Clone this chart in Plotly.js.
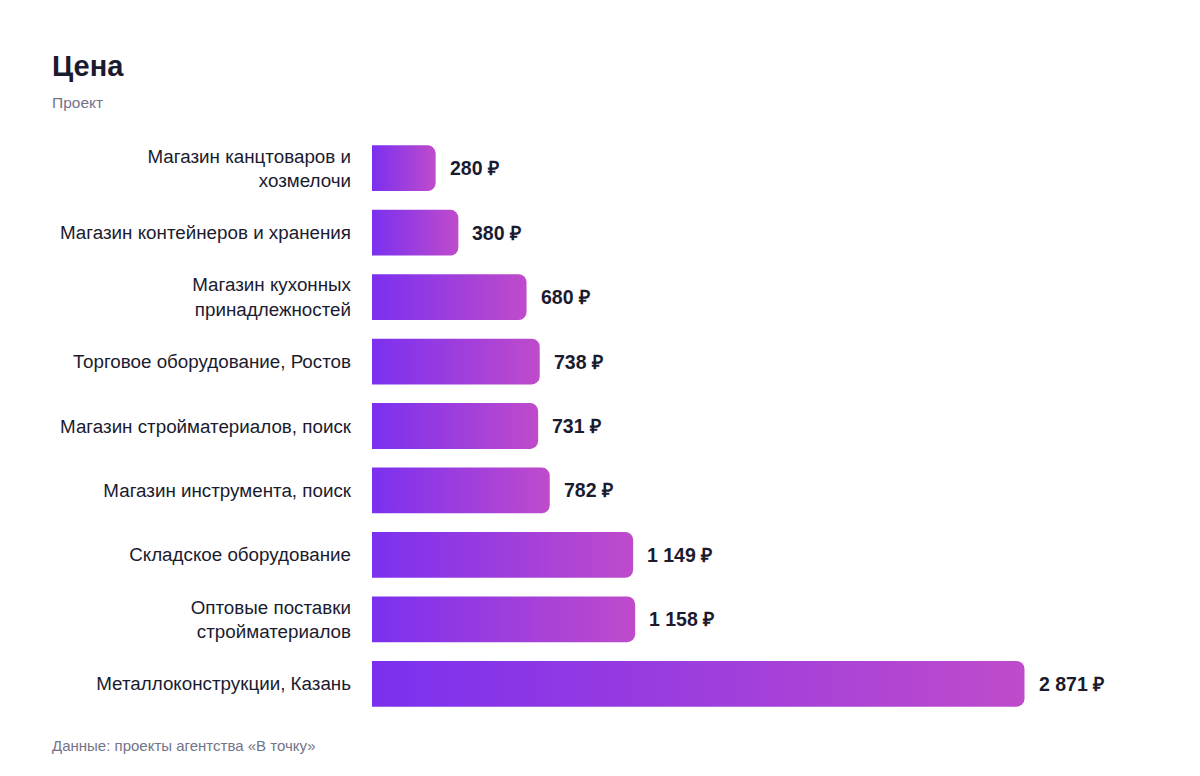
<!DOCTYPE html>
<html>
<head>
<meta charset="utf-8">
<script src="https://cdn.plot.ly/plotly-3.0.1.min.js"></script>
<style>
  html, body { margin: 0; padding: 0; background: #fff; }
  #chart { width: 1200px; height: 776px; }
</style>
</head>
<body>
<div id="chart"></div>
<script>
// data
const projects = [
  'Магазин канцтоваров и<br>хозмелочи',
  'Магазин контейнеров и хранения',
  'Магазин кухонных<br>принадлежностей',
  'Торговое оборудование, Ростов',
  'Магазин стройматериалов, поиск',
  'Магазин инструмента, поиск',
  'Складское оборудование',
  'Оптовые поставки<br>стройматериалов',
  'Металлоконструкции, Казань'
];
const prices = [280, 380, 680, 738, 731, 782, 1149, 1158, 2871];

function fmt(v) {
  return String(v).replace(/\B(?=(\d{3})+(?!\d))/g, ' ') + ' ₽';
}

const font = '"Liberation Sans", Arial, Helvetica, sans-serif';
// left edge of the page texts, in paper units (plot starts at 372px, is 750px wide)
const leftX = (50 - 372) / 750;

let trace = {
  type: 'bar',
  orientation: 'h',
  x: prices,
  y: projects,
  marker: { color: '#9b3fe0', cornerradius: 8, line: { width: 0 } },
  hoverinfo: 'skip'
};

let valueLabels = prices.map((v, i) => ({
  x: v,
  y: projects[i],
  xref: 'x',
  yref: 'y',
  text: '<b>' + fmt(v) + '</b>',
  showarrow: false,
  xanchor: 'left',
  xshift: 12,
  font: { family: font, size: 19.5, color: '#1b1b2f' }
}));

let layout = {
  width: 1200,
  height: 776,
  margin: { l: 372, r: 78, t: 136, b: 60 },
  paper_bgcolor: '#ffffff',
  plot_bgcolor: '#ffffff',
  showlegend: false,
  bargap: 0.29,
  xaxis: {
    range: [0, 3300],
    visible: false,
    fixedrange: true
  },
  yaxis: {
    autorange: 'reversed',
    showgrid: false,
    zeroline: false,
    showline: false,
    ticks: '',
    ticklabelstandoff: 20,
    tickfont: { family: font, size: 18.8, color: '#1b1b2f' },
    fixedrange: true
  },
  annotations: valueLabels.concat([
    {
      xref: 'paper', yref: 'paper', x: leftX, y: 1,
      yshift: 52, xanchor: 'left', yanchor: 'bottom',
      text: '<b>Цена</b>', showarrow: false,
      font: { family: font, size: 29, color: '#1b1b2f' }
    },
    {
      xref: 'paper', yref: 'paper', x: leftX, y: 1,
      yshift: 23, xanchor: 'left', yanchor: 'bottom',
      text: 'Проект', showarrow: false,
      font: { family: font, size: 15.5, color: '#73738a' }
    },
    {
      xref: 'paper', yref: 'paper', x: leftX, y: 0,
      yshift: -19, xanchor: 'left', yanchor: 'top',
      text: 'Данные: проекты агентства «В точку»', showarrow: false,
      font: { family: font, size: 15, color: '#73738a' }
    }
  ])
};

Plotly.newPlot('chart', [trace], layout, { displayModeBar: false, staticPlot: true }).then(function (gd) {
  // horizontal gradient fill on every bar
  const svg = gd.querySelector('svg.main-svg');
  const ns = 'http://www.w3.org/2000/svg';
  let defs = svg.querySelector('defs');
  const grad = document.createElementNS(ns, 'linearGradient');
  grad.setAttribute('id', 'barGrad');
  grad.setAttribute('x1', '0');
  grad.setAttribute('x2', '1');
  grad.setAttribute('y1', '0');
  grad.setAttribute('y2', '0');
  [['0', '#7b30ef'], ['1', '#bf4bcb']].forEach(function (s) {
    const stop = document.createElementNS(ns, 'stop');
    stop.setAttribute('offset', s[0]);
    stop.setAttribute('stop-color', s[1]);
    grad.appendChild(stop);
  });
  defs.appendChild(grad);
  gd.querySelectorAll('.bars .point path').forEach(function (p) {
    p.style.fill = 'url(#barGrad)';
  });
});
</script>
</body>
</html>
